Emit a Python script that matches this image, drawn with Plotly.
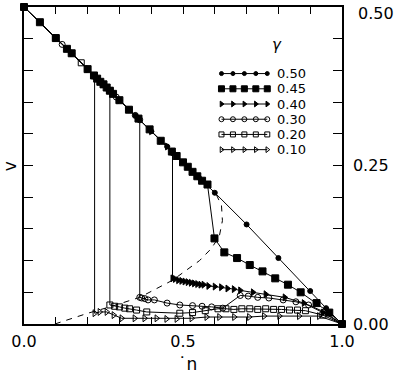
import plotly.graph_objects as go

# ---------------- data ----------------
gamma_labels = ["0.50", "0.45", "0.40", "0.30", "0.20", "0.10"]

n_050 = [0.00, 0.05, 0.10, 0.15, 0.20, 0.25, 0.30, 0.35, 0.40, 0.45, 0.50, 0.55, 0.60,
         0.70, 0.80, 0.90, 0.95, 1.00]
v_050 = [0.500, 0.476, 0.451, 0.427, 0.402, 0.378, 0.353, 0.329, 0.304, 0.280, 0.255, 0.231, 0.207,
         0.157, 0.104, 0.052, 0.025, 0.000]

n_045 = [0.00, 0.05, 0.10, 0.135, 0.15, 0.20, 0.22, 0.23, 0.24, 0.25, 0.26, 0.27, 0.28, 0.30, 0.33,
         0.36, 0.395, 0.43, 0.465, 0.48, 0.50, 0.515, 0.53, 0.545, 0.56, 0.577,
         0.599, 0.63, 0.67, 0.71, 0.75, 0.79, 0.83, 0.87, 0.92, 0.96, 1.00]
v_045 = [0.500, 0.476, 0.451, 0.434, 0.427, 0.402, 0.392, 0.387, 0.382, 0.378, 0.373, 0.368, 0.363, 0.353,
         0.338, 0.324, 0.307, 0.289, 0.272, 0.265, 0.255, 0.248, 0.240, 0.233, 0.226, 0.220,
         0.135, 0.113, 0.104, 0.093, 0.083, 0.072, 0.062, 0.050, 0.033, 0.018, 0.000]

n_040 = [0.00, 0.10, 0.20, 0.26, 0.30, 0.36, 0.40, 0.43, 0.45, 0.467, 0.467, 0.475, 0.485, 0.495,
         0.505, 0.515, 0.525, 0.535, 0.545, 0.555, 0.565, 0.58, 0.60, 0.62, 0.64, 0.66, 0.68,
         0.72, 0.76, 0.82, 0.88, 0.94, 1.00]
v_040 = [0.500, 0.451, 0.402, 0.373, 0.353, 0.324, 0.304, 0.289, 0.280, 0.271, 0.072, 0.071, 0.069, 0.068,
         0.067, 0.066, 0.065, 0.064, 0.063, 0.062, 0.062, 0.060, 0.059, 0.058, 0.056, 0.055, 0.053,
         0.050, 0.047, 0.042, 0.033, 0.018, 0.000]

n_030 = [0.00, 0.12, 0.15, 0.20, 0.25, 0.29, 0.33, 0.35, 0.364, 0.364, 0.37, 0.38, 0.39, 0.41,
         0.45, 0.49, 0.53, 0.56, 0.59, 0.625, 0.68, 0.705, 0.735, 0.77, 0.815, 0.855, 0.895, 0.944, 1.00]
v_030 = [0.500, 0.441, 0.427, 0.402, 0.378, 0.358, 0.338, 0.329, 0.322, 0.042, 0.041, 0.040, 0.038, 0.038,
         0.033, 0.030, 0.029, 0.028, 0.027, 0.025, 0.045, 0.044, 0.042, 0.041, 0.038, 0.035, 0.030, 0.019, 0.000]

n_020 = [0.00, 0.10, 0.18, 0.22, 0.25, 0.27, 0.27, 0.285, 0.30, 0.317, 0.332, 0.354, 0.386, 0.49,
         0.53, 0.57, 0.61, 0.635, 0.66, 0.685, 0.71, 0.735, 0.76, 0.785, 0.81, 0.835, 0.86, 0.885,
         0.94, 1.00]
v_020 = [0.500, 0.451, 0.412, 0.392, 0.378, 0.368, 0.030, 0.028, 0.027, 0.025, 0.024, 0.022, 0.019, 0.017,
         0.018, 0.021, 0.024, 0.024, 0.023, 0.024, 0.024, 0.023, 0.024, 0.023, 0.023, 0.022, 0.022, 0.021,
         0.014, 0.000]

n_010 = [0.00, 0.10, 0.15, 0.20, 0.222, 0.222, 0.238, 0.260, 0.282, 0.307, 0.348, 0.379, 0.417,
         0.448, 0.480, 0.527, 0.574, 0.614, 0.661, 0.708, 0.755, 0.803, 0.865, 0.928, 1.00]
v_010 = [0.500, 0.451, 0.427, 0.402, 0.391, 0.017, 0.019, 0.019, 0.014, 0.009, 0.009, 0.009, 0.009,
         0.008, 0.008, 0.009, 0.011, 0.011, 0.011, 0.011, 0.0125, 0.0125, 0.0125, 0.0125, 0.000]

# dashed boundary curve
n_dash = [0.097, 0.201, 0.270, 0.364, 0.467, 0.552, 0.589, 0.614, 0.624, 0.621, 0.602]
v_dash = [0.000, 0.017, 0.027, 0.042, 0.069, 0.100, 0.119, 0.138, 0.163, 0.187, 0.207]

x_ticks = [0.0, 0.1, 0.2, 0.3, 0.4, 0.5, 0.6, 0.7, 0.8, 0.9, 1.0]
x_ticktext = ["0.0", "", "", "", "", "0.5", "", "", "", "", "1.0"]
y_ticks = [0.0, 0.05, 0.10, 0.15, 0.20, 0.25, 0.30, 0.35, 0.40, 0.45, 0.50]
y_ticktext = ["0.00", "", "", "", "", "0.25", "", "", "", "", ""]
y_top_label = "0.50"

series_n = [n_050, n_045, n_040, n_030, n_020, n_010]
series_v = [v_050, v_045, v_040, v_030, v_020, v_010]

# ---------------- styles ----------------
symbols = ["circle", "square", "triangle-right", "circle-open", "square-open", "triangle-right-open"]
sizes = [5, 7, 6, 6, 6, 6]

FONT = "DejaVu Sans, Liberation Sans, sans-serif"

fig = go.Figure()

fig.add_trace(go.Scatter(x=n_dash, y=v_dash, mode="lines",
                         line=dict(color="black", width=1, dash="6px,6px"),
                         showlegend=False, hoverinfo="skip", cliponaxis=False))

for lab, xs, ys, sym, sz in zip(gamma_labels, series_n, series_v, symbols, sizes):
    fig.add_trace(go.Scatter(
        x=xs, y=ys, mode="lines+markers", name=lab,
        line=dict(color="black", width=1),
        marker=dict(symbol=sym, size=sz, color="black",
                    line=dict(color="black", width=1)),
        showlegend=False, cliponaxis=False))

# ---------------- hand-drawn key (layout positions) ----------------
key_x0, key_x1 = 0.621, 0.765      # in n units
key_rows = [0.395, 0.371, 0.347, 0.323, 0.299, 0.275]  # in v units
key_label_x = 0.790
for i, (lab, sym, sz) in enumerate(zip(gamma_labels, symbols, sizes)):
    step = (key_x1 - key_x0) / 4
    kx = [key_x0 + k * step for k in range(5)]
    ky = [key_rows[i]] * 5
    fig.add_trace(go.Scatter(
        x=kx, y=ky, mode="lines+markers",
        line=dict(color="black", width=1),
        marker=dict(symbol=sym, size=max(sz - 1, 4), color="black",
                    line=dict(color="black", width=1)),
        showlegend=False, hoverinfo="skip"))
    fig.add_annotation(x=key_label_x, y=key_rows[i], text=lab, showarrow=False,
                       xanchor="left", yanchor="middle", height=13,
                       font=dict(family=FONT, size=13, color="black"))

fig.add_annotation(x=0.775, y=0.440, text="<i>γ</i>", showarrow=False,
                   xanchor="left", yanchor="middle",
                   font=dict(family=FONT, size=15, color="black"))

# top right tick label (placed as text so it is not dropped at the edge)
fig.add_annotation(xref="paper", yref="paper", x=1.0, xshift=14, y=1.0, yshift=5,
                   text=y_top_label, showarrow=False, xanchor="left", yanchor="top",
                   font=dict(family=FONT, size=16, color="black"))

# axis titles
fig.add_annotation(xref="paper", yref="paper", x=-0.044, y=0.498, text="v",
                   showarrow=False, textangle=-90, xanchor="center", yanchor="middle",
                   font=dict(family=FONT, size=17, color="black"))
fig.add_annotation(xref="paper", yref="paper", x=0.515, y=-0.165, text="˙n",
                   showarrow=False, xanchor="center", yanchor="bottom",
                   font=dict(family=FONT, size=17, color="black"))

fig.update_layout(
    width=394, height=377,
    margin=dict(l=24, r=51, t=5, b=53),
    plot_bgcolor="white", paper_bgcolor="white",
    font=dict(family=FONT, size=16, color="black"),
    showlegend=False,
    xaxis=dict(range=[0, 1], showgrid=False, zeroline=False,
               showline=True, linecolor="black", linewidth=1.5, mirror="ticks",
               ticks="inside", ticklen=7, tickwidth=1.2, tickcolor="black",
               tickvals=x_ticks, ticktext=x_ticktext, ticklabelstandoff=2,
               tickfont=dict(family=FONT, size=16)),
    yaxis=dict(range=[0, 0.5], side="right", showgrid=False, zeroline=False,
               showline=True, linecolor="black", linewidth=1.5, mirror="ticks",
               ticks="inside", ticklen=9, tickwidth=1.2, tickcolor="black",
               tickvals=y_ticks, ticktext=y_ticktext, ticklabelstandoff=6,
               tickfont=dict(family=FONT, size=16)),
)

fig.write_html("out.html", config={"displayModeBar": False},
               post_script="document.body.style.margin='0';")
